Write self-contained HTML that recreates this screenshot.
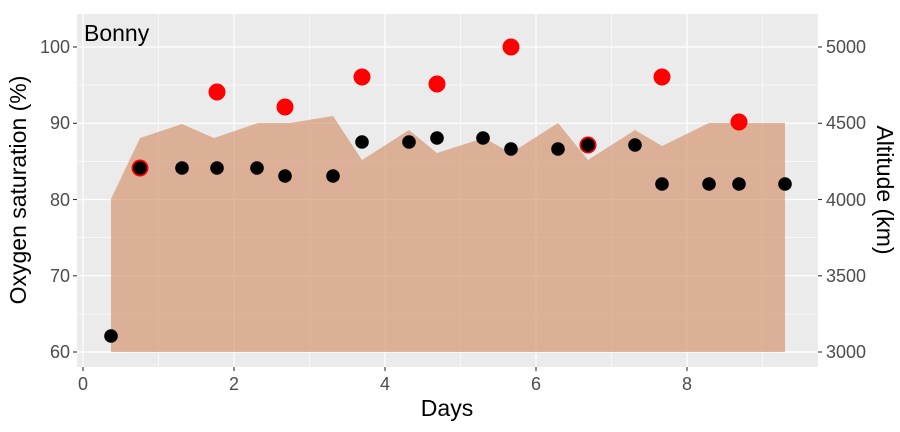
<!DOCTYPE html><html><head><style>body{margin:0;background:#fff}</style></head><body>
<svg width="900" height="427" xmlns="http://www.w3.org/2000/svg" font-family="Liberation Sans, sans-serif">
<rect x="77" y="14" width="741" height="353" fill="#ebebeb"/>
<g stroke="#fff" stroke-width="0.6">
<line x1="77" x2="818" y1="314" y2="314"/><line x1="77" x2="818" y1="237.6" y2="237.6"/><line x1="77" x2="818" y1="161.4" y2="161.4"/><line x1="77" x2="818" y1="85.1" y2="85.1"/>
<line y1="14" y2="367" x1="158.5" x2="158.5"/><line y1="14" y2="367" x1="309.5" x2="309.5"/><line y1="14" y2="367" x1="460.5" x2="460.5"/><line y1="14" y2="367" x1="611.5" x2="611.5"/><line y1="14" y2="367" x1="762.5" x2="762.5"/>
</g>
<g stroke="#fff" stroke-width="1.2">
<line x1="77" x2="818" y1="352" y2="352"/><line x1="77" x2="818" y1="275.8" y2="275.8"/><line x1="77" x2="818" y1="199.5" y2="199.5"/><line x1="77" x2="818" y1="123.3" y2="123.3"/><line x1="77" x2="818" y1="47" y2="47"/>
<line y1="14" y2="367" x1="83" x2="83"/><line y1="14" y2="367" x1="234" x2="234"/><line y1="14" y2="367" x1="385" x2="385"/><line y1="14" y2="367" x1="536" x2="536"/><line y1="14" y2="367" x1="687" x2="687"/>
</g>
<polygon fill="#d2916a" fill-opacity="0.65" points="111,352 111,199 140,138 182,124 214,138 258,123 290,123 333,116 362,160 409,130 437,153 484,138 511,153 558,123 588,160 635,130 662,146 709,123 785,123 785,352"/>
<g fill="#f00">
<circle cx="140" cy="168" r="8.5"/><circle cx="217" cy="92" r="8.5"/><circle cx="285" cy="107" r="8.5"/><circle cx="362" cy="77" r="8.5"/><circle cx="437" cy="84" r="8.5"/><circle cx="511" cy="47" r="8.5"/><circle cx="588" cy="145" r="8.5"/><circle cx="662" cy="77" r="8.5"/><circle cx="739" cy="122" r="8.5"/>
</g>
<g fill="#000">
<circle cx="111" cy="336" r="6.8"/><circle cx="140" cy="168" r="6.8"/><circle cx="182" cy="168" r="6.8"/><circle cx="217" cy="168" r="6.8"/><circle cx="257" cy="168" r="6.8"/><circle cx="285" cy="176" r="6.8"/><circle cx="333" cy="176" r="6.8"/><circle cx="362" cy="142" r="6.8"/><circle cx="409" cy="142" r="6.8"/><circle cx="437" cy="138" r="6.8"/><circle cx="483" cy="138" r="6.8"/><circle cx="511" cy="149" r="6.8"/><circle cx="558" cy="149" r="6.8"/><circle cx="588" cy="145" r="6.8"/><circle cx="635" cy="145" r="6.8"/><circle cx="662" cy="184" r="6.8"/><circle cx="709" cy="184" r="6.8"/><circle cx="739" cy="184" r="6.8"/><circle cx="785" cy="184" r="6.8"/>
</g>
<text x="84" y="41" font-size="23">Bonny</text>
<g stroke="#333" stroke-width="1.1">
<line x1="73" x2="77" y1="352" y2="352"/><line x1="73" x2="77" y1="275.8" y2="275.8"/><line x1="73" x2="77" y1="199.5" y2="199.5"/><line x1="73" x2="77" y1="123.3" y2="123.3"/><line x1="73" x2="77" y1="47" y2="47"/>
<line x1="818" x2="822" y1="352" y2="352"/><line x1="818" x2="822" y1="275.8" y2="275.8"/><line x1="818" x2="822" y1="199.5" y2="199.5"/><line x1="818" x2="822" y1="123.3" y2="123.3"/><line x1="818" x2="822" y1="47" y2="47"/>
<line y1="367" y2="371" x1="83" x2="83"/><line y1="367" y2="371" x1="234" x2="234"/><line y1="367" y2="371" x1="385" x2="385"/><line y1="367" y2="371" x1="536" x2="536"/><line y1="367" y2="371" x1="687" x2="687"/>
</g>
<g fill="#4d4d4d" font-size="18" text-anchor="end">
<text x="70" y="358">60</text><text x="70" y="282">70</text><text x="70" y="206">80</text><text x="70" y="129">90</text><text x="70" y="53">100</text>
</g>
<g fill="#4d4d4d" font-size="18">
<text x="826" y="358">3000</text><text x="826" y="282">3500</text><text x="826" y="206">4000</text><text x="826" y="129">4500</text><text x="826" y="53">5000</text>
</g>
<g fill="#4d4d4d" font-size="18" text-anchor="middle">
<text x="83" y="390">0</text><text x="234" y="390">2</text><text x="385" y="390">4</text><text x="536" y="390">6</text><text x="687" y="390">8</text>
</g>
<text x="447" y="416" font-size="23" text-anchor="middle">Days</text>
<text transform="translate(26,190) rotate(-90)" font-size="23" text-anchor="middle">Oxygen saturation (%)</text>
<text transform="translate(877,190) rotate(90)" font-size="23" text-anchor="middle">Altitude (km)</text>
</svg>
</body></html>
